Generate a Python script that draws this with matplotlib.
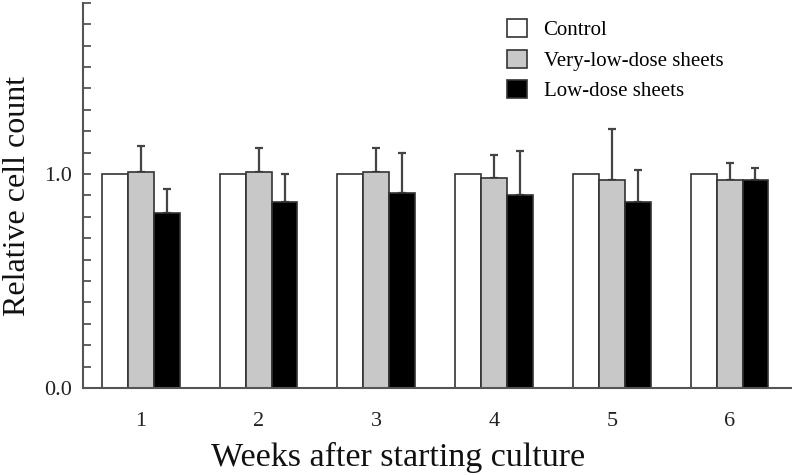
import numpy as np
import matplotlib.pyplot as plt
from matplotlib.ticker import MultipleLocator, FixedLocator

plt.rcParams['font.family'] = ['Liberation Serif', 'DejaVu Serif']

weeks = [1, 2, 3, 4, 5, 6]
series = ["Control", "Very-low-dose sheets", "Low-dose sheets"]
control = [1.0, 1.0, 1.0, 1.0, 1.0, 1.0]
very_low = [1.01, 1.01, 1.01, 0.98, 0.97, 0.97]
very_low_top = [1.13, 1.12, 1.12, 1.09, 1.21, 1.05]
low = [0.82, 0.87, 0.91, 0.90, 0.87, 0.97]
low_top = [0.93, 1.00, 1.10, 1.11, 1.02, 1.03]

fills = ["white", "#c8c8c8", "black"]
edge = "#333333"
w = 0.22

fig = plt.figure(figsize=(7.92, 4.75), dpi=100)
ax = fig.add_axes([0.105, 0.183, 0.895, 0.811])

x = np.array(weeks)
vals = [control, very_low, low]
tops = [None, very_low_top, low_top]
for i, (v, t) in enumerate(zip(vals, tops)):
    pos = x + (i - 1) * w
    ax.bar(pos, v, w, color=fills[i], edgecolor=edge, linewidth=1.2,
           label=series[i], zorder=2)
    if t is not None:
        up = np.array(t) - np.array(v)
        ax.errorbar(pos, v, yerr=[np.zeros_like(up), up], fmt='none',
                    ecolor="#444444", elinewidth=1.6, capsize=3, capthick=1.6,
                    zorder=1)

ax.set_xlim(0.51, 6.53)
ax.set_ylim(0, 1.8)
ax.set_xticks(weeks)
ax.tick_params(axis='x', length=0, labelsize=16, pad=17, colors="#222222")
ax.yaxis.set_major_locator(FixedLocator([0.0, 1.0]))
ax.yaxis.set_minor_locator(MultipleLocator(0.1))
ax.set_yticklabels(["0.0", "1.0"])
ax.tick_params(axis='y', which='both', direction='in', length=6, width=1.3,
               color="#555555", labelsize=16, pad=8, labelcolor="#222222")

for s in ["top", "right"]:
    ax.spines[s].set_visible(False)
for s in ["left", "bottom"]:
    ax.spines[s].set_color("#555555")
    ax.spines[s].set_linewidth(1.5)

ax.set_xlabel("Weeks after starting culture", fontsize=24.5, labelpad=8,
              color="#111111")
ax.xaxis.label.set_x(0.4436)
ax.set_ylabel("Relative cell count", fontsize=23, labelpad=9, color="#111111")

ax.legend(loc="upper left", bbox_to_anchor=(0.598, 0.958), frameon=False,
          fontsize=15, handlelength=0.95, handleheight=0.95, labelspacing=0.45,
          handletextpad=0.8, borderaxespad=0, borderpad=0)

plt.savefig("out.png", dpi=100)
